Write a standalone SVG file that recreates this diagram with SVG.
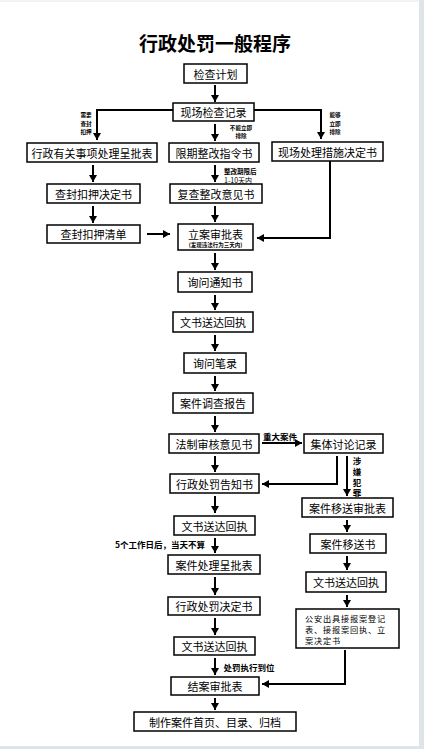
<svg xmlns="http://www.w3.org/2000/svg" width="424" height="749" viewBox="0 0 424 749">
<defs>
<marker id="ah" markerUnits="userSpaceOnUse" markerWidth="8" markerHeight="8" refX="7" refY="4" orient="auto">
<path d="M0,0 L7,4 L0,8 Z" fill="#000"/>
</marker>
<style>
.b{fill:#fff;stroke:#000;stroke-width:1.5}
.t{font-family:"Noto Sans CJK SC","Noto Sans",sans-serif;font-size:11px;fill:#000;text-anchor:middle;dominant-baseline:central}
.s{font-family:"Noto Sans CJK SC","Noto Sans",sans-serif;font-size:5.6px;fill:#000;text-anchor:middle;dominant-baseline:central;font-weight:bold}
.m{font-family:"Noto Sans CJK SC","Noto Sans",sans-serif;font-size:8.5px;fill:#000;text-anchor:middle;dominant-baseline:central;font-weight:bold}
.l{font-family:"Noto Sans CJK SC","Noto Sans",sans-serif;font-size:8.2px;letter-spacing:0.8px;fill:#000;dominant-baseline:central}
.a{fill:none;stroke:#000;stroke-width:2;marker-end:url(#ah)}
</style>
</defs>
<rect x="0" y="0" width="424" height="749" fill="#fff"/>
<rect x="419" y="0" width="5" height="749" fill="#dfe4e8"/>
<rect x="0" y="746" width="424" height="3" fill="#dfe4e8"/>
<line x1="0" y1="1" x2="419" y2="1" stroke="#e3e6e9" stroke-width="1"/>
<text x="215" y="42" style="font-family:'Noto Sans CJK SC',sans-serif;font-size:19px;font-weight:bold;text-anchor:middle;dominant-baseline:central">行政处罚一般程序</text>

<g id="n1"><rect class="b" x="184" y="64" width="63" height="19"/><text class="t" x="215.5" y="73.5">检查计划</text></g>
<g id="n2"><rect class="b" x="173" y="103" width="81" height="18"/><text class="t" x="213.5" y="112">现场检查记录</text></g>
<g id="n3"><rect class="b" x="27" y="143" width="130" height="19"/><text class="t" x="92" y="152.5">行政有关事项处理呈批表</text></g>
<g id="n4"><rect class="b" x="169" y="143" width="90" height="19"/><text class="t" x="214" y="152.5">限期整改指令书</text></g>
<g id="n5"><rect class="b" x="272" y="142" width="111" height="19"/><text class="t" x="327.5" y="151.5">现场处理措施决定书</text></g>
<g id="n6"><rect class="b" x="47" y="184" width="93" height="19"/><text class="t" x="93.5" y="193.5">查封扣押决定书</text></g>
<g id="n7"><rect class="b" x="170" y="184" width="92" height="19"/><text class="t" x="216" y="193.5">复查整改意见书</text></g>
<g id="n8"><rect class="b" x="47" y="225" width="93" height="18"/><text class="t" x="93.5" y="234">查封扣押清单</text></g>
<g id="n9"><rect class="b" x="178" y="224" width="75" height="26"/><text class="t" x="215.5" y="233.5">立案审批表</text><text class="s" x="215.5" y="244.5" style="font-size:5.5px">(发现违法行为三天内)</text></g>
<g id="n10"><rect class="b" x="178" y="272" width="74" height="20"/><text class="t" x="215" y="282">询问通知书</text></g>
<g id="n11"><rect class="b" x="173" y="312" width="80" height="20"/><text class="t" x="213" y="322">文书送达回执</text></g>
<g id="n12"><rect class="b" x="184" y="353" width="62" height="20"/><text class="t" x="215" y="363">询问笔录</text></g>
<g id="n13"><rect class="b" x="173" y="393" width="80" height="20"/><text class="t" x="213" y="403">案件调查报告</text></g>
<g id="n14"><rect class="b" x="169" y="434" width="90" height="19"/><text class="t" x="214" y="443.5">法制审核意见书</text></g>
<g id="n15"><rect class="b" x="304" y="434" width="79" height="19"/><text class="t" x="343.5" y="443.5">集体讨论记录</text></g>
<g id="n16"><rect class="b" x="170" y="474" width="89" height="19"/><text class="t" x="214.5" y="483.5">行政处罚告知书</text></g>
<g id="n17"><rect class="b" x="302" y="498" width="91" height="19"/><text class="t" x="347.5" y="507.5">案件移送审批表</text></g>
<g id="n18"><rect class="b" x="174" y="516" width="81" height="19"/><text class="t" x="214.5" y="525.5">文书送达回执</text></g>
<g id="n19"><rect class="b" x="310" y="534" width="76" height="19"/><text class="t" x="348" y="543.5">案件移送书</text></g>
<g id="n20"><rect class="b" x="168" y="555" width="92" height="19"/><text class="t" x="214" y="564.5">案件处理呈批表</text></g>
<g id="n21"><rect class="b" x="306" y="572" width="80" height="20"/><text class="t" x="346" y="582">文书送达回执</text></g>
<g id="n22"><rect class="b" x="168" y="597" width="92" height="18"/><text class="t" x="214" y="606">行政处罚决定书</text></g>
<g id="n23"><rect class="b" x="296" y="609" width="103" height="39"/>
<text class="l" x="305" y="618">公安出具接报案登记</text>
<text class="l" x="305" y="629">表、接报案回执、立</text>
<text class="l" x="305" y="640">案决定书</text></g>
<g id="n24"><rect class="b" x="174" y="637" width="81" height="18"/><text class="t" x="214.5" y="646">文书送达回执</text></g>
<g id="n25"><rect class="b" x="171" y="677" width="88" height="18"/><text class="t" x="215" y="686">结案审批表</text></g>
<g id="n26"><rect class="b" x="134" y="712" width="162" height="19"/><text class="t" x="215" y="721.5">制作案件首页、目录、归档</text></g>

<g id="connectors">
<line class="a" x1="215" y1="85" x2="215" y2="102"/>
<polyline class="a" points="173,110 97,110 97,140"/>
<polyline class="a" points="254,110 321,110 321,139"/>
<line class="a" x1="215" y1="124" x2="215" y2="141"/>
<line class="a" x1="93" y1="165" x2="93" y2="182"/>
<line class="a" x1="215" y1="165" x2="215" y2="182"/>
<line class="a" x1="93" y1="206" x2="93" y2="223"/>
<line class="a" x1="215" y1="206" x2="215" y2="222"/>
<line class="a" x1="147" y1="234" x2="170" y2="234"/>
<polyline class="a" points="330,161 330,238 257,238"/>
<line class="a" x1="215" y1="253" x2="215" y2="270"/>
<line class="a" x1="215" y1="295" x2="215" y2="310"/>
<line class="a" x1="215" y1="335" x2="215" y2="351"/>
<line class="a" x1="215" y1="376" x2="215" y2="391"/>
<line class="a" x1="215" y1="416" x2="215" y2="432"/>
<line class="a" x1="262" y1="443" x2="302" y2="443"/>
<polyline class="a" points="337,456 337,484 262,484"/>
<line class="a" x1="347" y1="456" x2="347" y2="496"/>
<line class="a" x1="215" y1="456" x2="215" y2="472"/>
<line class="a" x1="215" y1="496" x2="215" y2="513"/>
<line class="a" x1="347" y1="520" x2="347" y2="532"/>
<line class="a" x1="215" y1="538" x2="215" y2="553"/>
<line class="a" x1="347" y1="556" x2="347" y2="570"/>
<line class="a" x1="215" y1="577" x2="215" y2="595"/>
<line class="a" x1="347" y1="595" x2="347" y2="607"/>
<line class="a" x1="215" y1="618" x2="215" y2="635"/>
<line class="a" x1="215" y1="658" x2="215" y2="675"/>
<polyline class="a" points="345,650 345,684 262,684"/>
<line class="a" x1="215" y1="698" x2="215" y2="710"/>
</g>

<g id="labels">
<text class="s" x="86" y="115">需要</text>
<text class="s" x="86" y="123.5">查封</text>
<text class="s" x="86" y="132">扣押</text>
<text class="s" x="241" y="127.5">不能立即</text>
<text class="s" x="241" y="136">排除</text>
<text class="s" x="335" y="115">能够</text>
<text class="s" x="335" y="123.5">立即</text>
<text class="s" x="335" y="132">排除</text>
<text class="s" x="224" y="171" style="text-anchor:start;font-size:6.5px">整改期限后</text>
<text class="s" x="224" y="180" style="text-anchor:start;font-weight:normal;font-size:7px">1-10天内</text>
<text class="m" x="280" y="436">重大案件</text>
<text class="m" x="357" y="460">涉</text>
<text class="m" x="357" y="471">嫌</text>
<text class="m" x="357" y="481.5">犯</text>
<text class="m" x="357" y="492">罪</text>
<text class="m" x="160" y="544">5个工作日后，当天不算</text>
<text class="m" x="249" y="667">处罚执行到位</text>
</g>
</svg>
